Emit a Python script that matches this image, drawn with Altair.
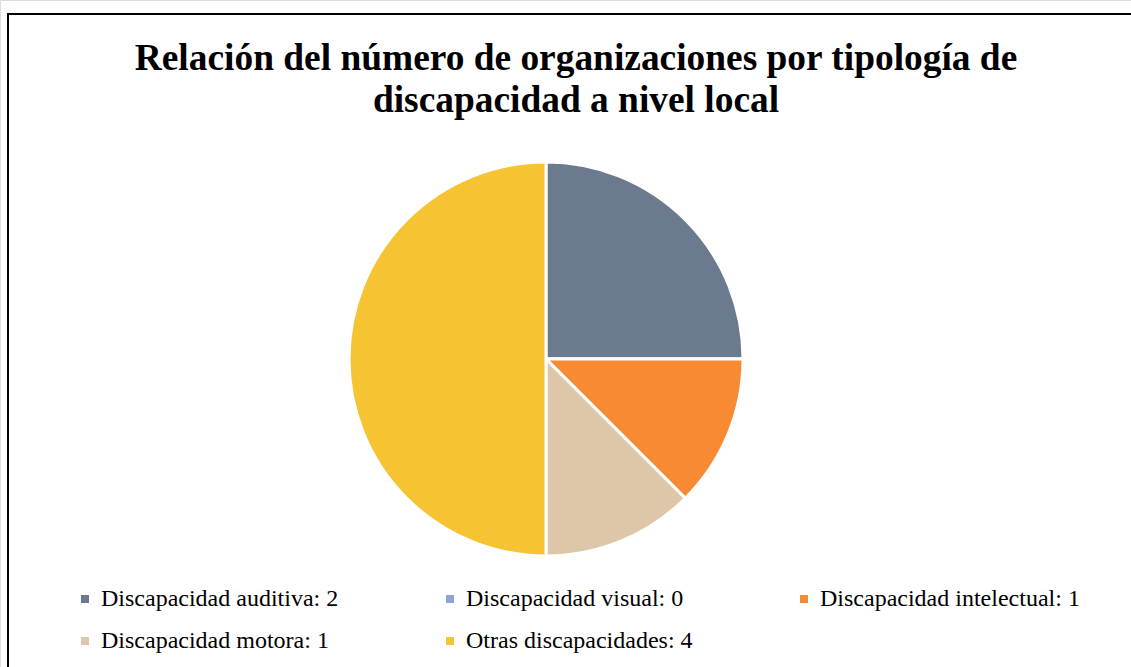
import altair as alt
import pandas as pd

categories = ["Discapacidad auditiva", "Discapacidad visual", "Discapacidad intelectual",
              "Discapacidad motora", "Otras discapacidades"]
values = [2, 0, 1, 1, 4]
colors = ["#6B7A8F", "#8FA3D4", "#F78A33", "#DEC7A9", "#F6C333"]
title_lines = ["Relación del número de organizaciones por tipología de",
               "discapacidad a nivel local"]

labels = [f"{c}: {v}" for c, v in zip(categories, values)]
df = pd.DataFrame({"label": labels, "value": values, "order": list(range(len(values)))})

FONT = "Liberation Serif"

pie = alt.Chart(df).mark_arc(outerRadius=197, stroke="white", strokeWidth=3).encode(
    theta=alt.Theta("value:Q", stack=True),
    order=alt.Order("order:Q"),
    color=alt.Color(
        "label:N",
        sort=labels,
        scale=alt.Scale(domain=labels, range=colors),
        legend=alt.Legend(
            title=None, orient="none", legendX=73, legendY=587, columns=3, direction="horizontal",
            columnPadding=99, rowPadding=18, symbolType="square", symbolSize=64,
            symbolStrokeWidth=0, labelFont=FONT, labelFontSize=24, labelColor="black",
            labelOffset=4, labelLimit=400,
        ),
    ),
    x=alt.value(546),
    y=alt.value(359),
)

tdf = pd.DataFrame({"line": title_lines, "i": [0, 1]})
title = alt.Chart(tdf).mark_text(
    font=FONT, fontSize=37.4, fontWeight="bold", color="black", align="center", baseline="alphabetic"
).encode(
    text="line:N",
    x=alt.value(576),
    y=alt.Y("i:Q", scale=alt.Scale(domain=[0, 1], range=[70, 112]), axis=None),
)

frame = alt.Chart(pd.DataFrame({"a": [0]})).mark_rect(fill=None, stroke="black", strokeWidth=2).encode(
    x=alt.value(8), x2=alt.value(1145), y=alt.value(14), y2=alt.value(690)
)

chart = alt.layer(frame, pie, title).properties(
    width=1131, height=667,
    autosize=alt.AutoSizeParams(type="none"),
    padding=0,
).configure_view(stroke=None).configure(background="white")

chart.save("out.html", embed_options={"renderer": "svg", "actions": False})
